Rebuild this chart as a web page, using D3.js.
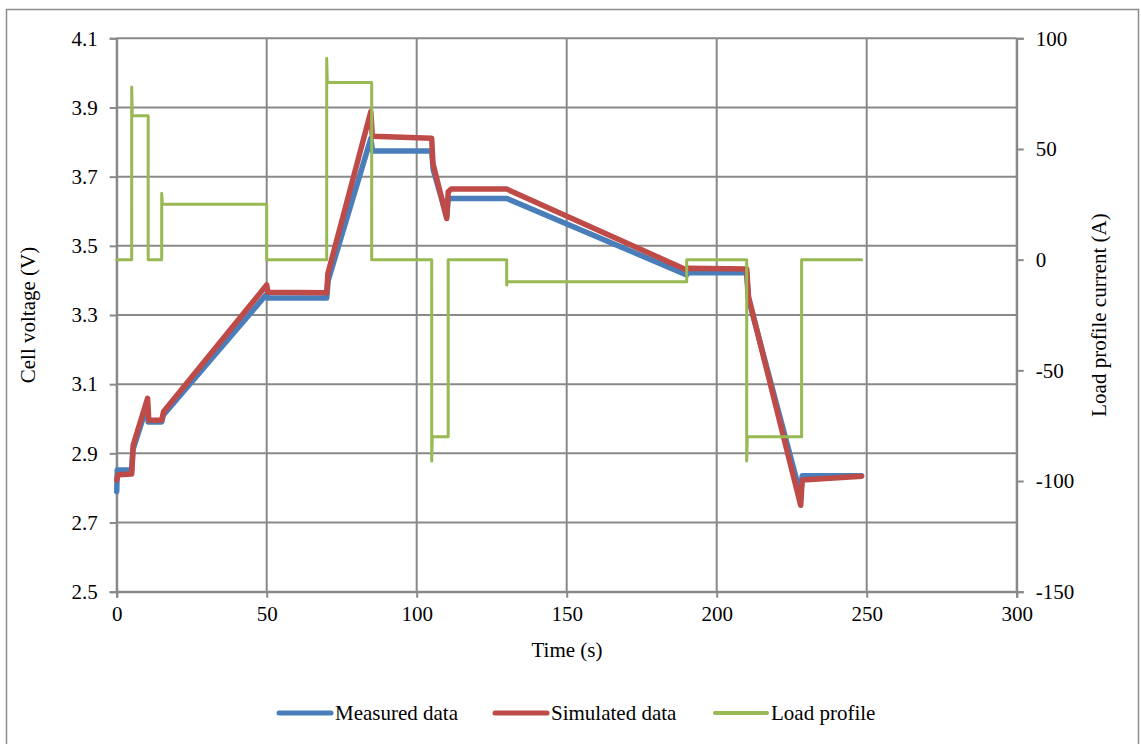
<!DOCTYPE html>
<html lang="en">
<head>
    <meta charset="utf-8">
    <title>Cell voltage and load profile</title>
    <script type="text/javascript" src="https://cdn.jsdelivr.net/npm/d3@7"></script>
    <style>
        body { margin: 0; background: #fff; }
        text { font-family: "Liberation Serif", "Times New Roman", serif; fill: #000; }
    </style>
</head>
<body>
<div id="chart"></div>
<script type="text/javascript">
    // time (s), voltage (V)
    var measured = [
        [0, 2.79], [0.2, 2.852], [5, 2.852], [5.4, 2.91], [10.2, 3.04], [10.5, 2.991], [15, 2.991],
        [15.5, 3.01], [50, 3.36], [50.3, 3.349], [70, 3.349], [70.5, 3.40], [84.7, 3.81], [85.3, 3.774],
        [105, 3.774], [105.5, 3.72], [110, 3.585], [110.5, 3.637], [130, 3.637], [190, 3.416],
        [190.5, 3.422], [210, 3.422], [210.5, 3.35], [228, 2.78], [228.5, 2.835], [248.3, 2.835]
    ];
    var simulated = [
        [0, 2.823], [0.5, 2.838], [5, 2.840], [5.5, 2.924], [10.3, 3.059], [10.7, 2.996], [15, 2.996],
        [15.6, 3.02], [50, 3.387], [50.4, 3.366], [70, 3.364], [70.4, 3.42], [84.7, 3.888], [85.2, 3.817],
        [105, 3.811], [105.4, 3.739], [110, 3.579], [110.5, 3.656], [111.5, 3.664], [130, 3.664],
        [190, 3.430], [190.5, 3.435], [210, 3.433], [210.6, 3.353], [228, 2.750], [228.5, 2.823],
        [248.3, 2.834]
    ];
    // time (s), current (A)
    var loadProfile = [
        [0, 0], [5, 0], [5, 78], [5.2, 65], [10.5, 65], [10.5, 0], [15, 0], [15, 30], [15.2, 25],
        [50, 25], [50, 0], [70, 0], [70, 91], [70.2, 80], [85, 80], [85, 0], [105, 0], [105, -91],
        [105.2, -80], [110.5, -80], [110.5, 0], [130, 0], [130, -11.5], [130.2, -10], [190, -10],
        [190, 0], [210, 0], [210, -91], [210.2, -80], [228.3, -80], [228.3, 0], [248.3, 0]
    ];
    var xTicks = [0, 50, 100, 150, 200, 250, 300];
    var yTicks = [2.5, 2.7, 2.9, 3.1, 3.3, 3.5, 3.7, 3.9, 4.1];
    var y2Ticks = [-150, -100, -50, 0, 50, 100];
    var seriesNames = ["Measured data", "Simulated data", "Load profile"];
    var seriesColors = ["#4a7ebb", "#be4b48", "#98b954"];

    var w = 1141;
    var h = 744;
    var fontSize = 21;
    // plot area edges (pixels)
    var plotLeft = 116.7, plotRight = 1016.7, plotTop = 38.3, plotBottom = 591.7;

    var svg = d3.select("#chart")
        .append("svg")
        .attr("width", w)
        .attr("height", h);

    // outer chart border
    svg.append("rect")
        .attr("x", 6.5).attr("y", 9.5)
        .attr("width", 1132).attr("height", 750)
        .attr("fill", "none")
        .attr("stroke", "#8c8c8c")
        .attr("stroke-width", 1.5);

    var xScale = d3.scaleLinear().domain([0, 300]).range([plotLeft, plotRight]);
    var yScale = d3.scaleLinear().domain([2.5, 4.1]).range([plotBottom, plotTop]);
    var y2Scale = d3.scaleLinear().domain([-150, 100]).range([plotBottom, plotTop]);

    // grid lines
    svg.append("g").selectAll("line")
        .data(yTicks).enter().append("line")
        .attr("x1", plotLeft).attr("x2", plotRight)
        .attr("y1", function (d) { return yScale(d); })
        .attr("y2", function (d) { return yScale(d); })
        .attr("stroke", "#898989").attr("stroke-width", 2);
    svg.append("g").selectAll("line")
        .data(xTicks).enter().append("line")
        .attr("y1", plotTop).attr("y2", plotBottom)
        .attr("x1", function (d) { return xScale(d); })
        .attr("x2", function (d) { return xScale(d); })
        .attr("stroke", "#898989").attr("stroke-width", 2);

    var xAxis = d3.axisBottom(xScale).tickValues(xTicks).tickSize(6).tickPadding(8);
    var yAxis = d3.axisLeft(yScale).tickValues(yTicks).tickSize(7).tickPadding(12)
        .tickFormat(d3.format(".1f"));
    // plain hyphen for negatives, like the original
    var y2Axis = d3.axisRight(y2Scale).tickValues(y2Ticks).tickSize(7).tickPadding(12)
        .tickFormat(function (d) { return String(d); });

    function styleAxis(g) {
        g.select(".domain").attr("stroke", "#898989").attr("stroke-width", 2);
        g.selectAll(".tick line").attr("stroke", "#898989").attr("stroke-width", 2);
        g.selectAll(".tick text")
            .attr("font-size", fontSize)
            .attr("font-family", "Liberation Serif, serif")
            .attr("fill", "#000");
    }

    svg.append("g")
        .attr("transform", "translate(0," + plotBottom + ")")
        .call(xAxis).call(styleAxis);
    svg.append("g")
        .attr("transform", "translate(" + plotLeft + ",0)")
        .call(yAxis).call(styleAxis);
    svg.append("g")
        .attr("transform", "translate(" + plotRight + ",0)")
        .call(y2Axis).call(styleAxis);

    // axis titles
    svg.append("text")
        .attr("text-anchor", "middle")
        .attr("x", 567).attr("y", 657)
        .attr("font-size", fontSize)
        .text("Time (s)");
    svg.append("text")
        .attr("text-anchor", "middle")
        .attr("transform", "translate(35,315)rotate(-90)")
        .attr("font-size", fontSize)
        .text("Cell voltage (V)");
    svg.append("text")
        .attr("text-anchor", "middle")
        .attr("transform", "translate(1106,315)rotate(-90)")
        .attr("font-size", fontSize)
        .text("Load profile current (A)");

    var vLine = d3.line()
        .x(function (d) { return xScale(d[0]); })
        .y(function (d) { return yScale(d[1]); });
    var iLine = d3.line()
        .x(function (d) { return xScale(d[0]); })
        .y(function (d) { return y2Scale(d[1]); });

    svg.append("path")
        .datum(measured)
        .attr("d", vLine)
        .attr("fill", "none")
        .attr("stroke", seriesColors[0])
        .attr("stroke-width", 5.5)
        .attr("stroke-linejoin", "round")
        .attr("stroke-linecap", "round");
    svg.append("path")
        .datum(simulated)
        .attr("d", vLine)
        .attr("fill", "none")
        .attr("stroke", seriesColors[1])
        .attr("stroke-width", 5.5)
        .attr("stroke-linejoin", "round")
        .attr("stroke-linecap", "round");
    svg.append("path")
        .datum(loadProfile)
        .attr("d", iLine)
        .attr("fill", "none")
        .attr("stroke", seriesColors[2])
        .attr("stroke-width", 3)
        .attr("stroke-linejoin", "round")
        .attr("stroke-linecap", "round");

    // legend
    var legendX = [279, 495, 715];
    var legend = svg.append("g").selectAll("g")
        .data(seriesNames).enter().append("g")
        .attr("transform", function (d, i) { return "translate(" + legendX[i] + ",713)"; });
    legend.append("line")
        .attr("x1", 0).attr("x2", 52)
        .attr("stroke", function (d, i) { return seriesColors[i]; })
        .attr("stroke-width", function (d, i) { return i < 2 ? 5 : 4; })
        .attr("stroke-linecap", "round");
    legend.append("text")
        .attr("x", 56).attr("y", 7)
        .attr("font-size", fontSize)
        .text(function (d) { return d; });
</script>
</body>
</html>
